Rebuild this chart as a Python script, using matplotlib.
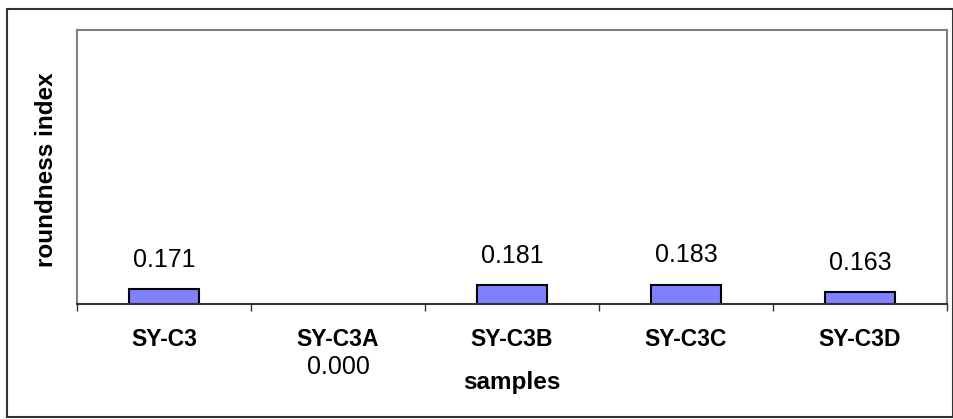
import numpy as np
import matplotlib.pyplot as plt
from matplotlib.patches import Rectangle

# roundness index per sample
samples = ['SY-C3', 'SY-C3A', 'SY-C3B', 'SY-C3C', 'SY-C3D']
roundness = [0.171, 0.000, 0.181, 0.183, 0.163]

# y scale of the chart (axis starts above zero)
y_min = 0.13
y_max = 0.88

plt.rcParams['font.family'] = ['Liberation Sans', 'DejaVu Sans']

fig = plt.figure(figsize=(9.54, 4.19), dpi=100)
ax = fig.add_axes([77/954, 1 - 304/419, 870/954, 274/419])

x = np.arange(len(samples))
ax.bar(x, roundness, width=0.4, bottom=0, color='#8080FF',
       edgecolor='black', linewidth=1.5, zorder=2)

ax.set_xlim(-0.5, len(samples) - 0.5)
ax.set_ylim(y_min, y_max)

# value labels, the ones below the axis start sit under the category names
for i, v in enumerate(roundness):
    if v >= y_min:
        ax.annotate('%.3f' % v, xy=(i, v), xytext=(0, 21), textcoords='offset points',
                    ha='center', va='center', fontsize=18)
    else:
        ax.annotate('%.3f' % v, xy=(i, y_min), xytext=(0, -45), textcoords='offset points',
                    ha='center', va='center', fontsize=18, annotation_clip=False)

# spines
for s in ['top', 'right', 'left']:
    ax.spines[s].set_color('#808080')
    ax.spines[s].set_linewidth(1.5)
ax.spines['bottom'].set_color('#333333')
ax.spines['bottom'].set_linewidth(1.5)

ax.set_yticks([])
ax.set_xticks(x)
ax.set_xticklabels(samples, fontsize=16.5, fontweight='bold')
ax.tick_params(axis='x', which='major', length=0, pad=17)
ax.set_xticks(np.arange(-0.5, len(samples)), minor=True)
ax.tick_params(axis='x', which='minor', length=5, width=1, color='#333333', direction='out')

ax.set_xlabel('samples', fontsize=17.5, fontweight='bold')
ax.xaxis.label.set_va('center')
ax.xaxis.set_label_coords(0.5, -0.285)
ax.set_ylabel('roundness index', fontsize=17.5, fontweight='bold')
ax.yaxis.label.set_va('center')
ax.yaxis.set_label_coords(-0.0345, 0.49)

# outer chart border
fig.patches.append(Rectangle((7/954, 2/419), 946/954, 408/419, transform=fig.transFigure,
                             fill=False, edgecolor='#333333', linewidth=1.5))

fig.savefig('out.png', dpi=100)
